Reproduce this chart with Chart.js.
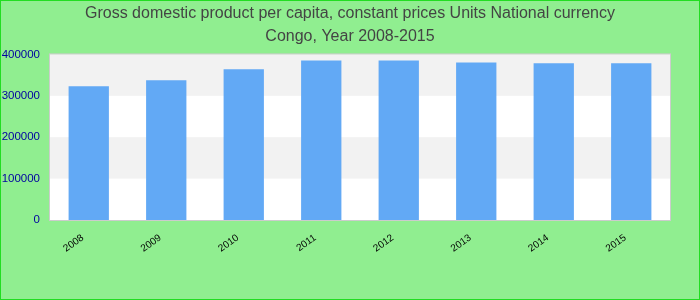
<!DOCTYPE html>
<html>
<head>
<meta charset="utf-8">
<script src="https://cdn.jsdelivr.net/npm/chart.js@4"></script>
<style>
  html, body { margin: 0; padding: 0; background: #90ee90; }
  #wrap { width: 700px; height: 300px; position: relative; }
</style>
</head>
<body>
<div id="wrap"><canvas id="chart"></canvas></div>
<script>
// ── Data ───────────────────────────────────────────────────────────────────
const YEARS  = ['2008', '2009', '2010', '2011', '2012', '2013', '2014', '2015'];
const GDP_PC = [323000, 337500, 364000, 385500, 385000, 380500, 378500, 378500];
const Y_TICKS = [0, 100000, 200000, 300000, 400000];
const TITLE_LINES = [
  'Gross domestic product per capita, constant prices Units National currency',
  'Congo, Year 2008-2015'
];

const FONT = 'Liberation Sans, Arial, sans-serif';

// page background, alternating bands, plot frame
const decor = {
  id: 'decor',
  beforeDraw(chart) {
    const { ctx, width, height } = chart;
    ctx.save();
    ctx.fillStyle = '#90ee90';
    ctx.fillRect(0, 0, width, height);
    ctx.restore();
  },
  beforeDatasetsDraw(chart) {
    const { ctx, chartArea: a, scales: { y } } = chart;
    ctx.save();
    ctx.fillStyle = '#ffffff';
    ctx.fillRect(a.left, a.top, a.right - a.left, a.bottom - a.top);
    for (let i = 1; i < Y_TICKS.length - 1; i += 2) {
      const top = y.getPixelForValue(Y_TICKS[i + 1]);
      const bot = y.getPixelForValue(Y_TICKS[i]);
      ctx.fillStyle = '#f2f2f2';
      ctx.fillRect(a.left, top, a.right - a.left, bot - top);
    }
    ctx.restore();
  },
  afterDraw(chart) {
    const { ctx, chartArea: a, width, height } = chart;
    ctx.save();
    ctx.strokeStyle = '#cccccc';
    ctx.lineWidth = 1;
    ctx.strokeRect(a.left - 0.5, a.top - 0.5, a.right - a.left + 1, a.bottom - a.top + 1);
    ctx.strokeStyle = '#22dd22';
    ctx.strokeRect(0.5, 0.5, width - 1, height - 1);
    ctx.restore();
  }
};

new Chart(document.getElementById('chart'), {
  type: 'bar',
  data: {
    labels: YEARS,
    datasets: [{
      data: GDP_PC,
      backgroundColor: '#62a9f5',
      borderWidth: 0,
      barPercentage: 0.52,
      categoryPercentage: 1,
    }],
  },
  options: {
    responsive: true,
    maintainAspectRatio: false,
    animation: false,
    layout: { padding: 0 },
    plugins: {
      legend: { display: false },
      tooltip: { enabled: false },
      title: {
        display: true,
        text: TITLE_LINES,
        color: '#444444',
        font: { family: FONT, size: 16, weight: 'normal', lineHeight: 1.45 },
        padding: { top: 2, bottom: 6 },
      },
    },
    scales: {
      x: {
        grid: { display: false, drawTicks: false },
        border: { display: false },
        ticks: {
          color: '#000000',
          font: { family: FONT, size: 10 },
          minRotation: 35,
          maxRotation: 35,
          padding: 12,
          labelOffset: -6,
        },
        afterFit(scale) { scale.height = 80; },
      },
      y: {
        min: 0,
        max: 400000,
        afterBuildTicks(scale) { scale.ticks = Y_TICKS.map(v => ({ value: v })); },
        grid: { display: false, drawTicks: false },
        border: { display: false },
        ticks: {
          color: '#0000a0',
          font: { family: FONT, size: 11.5 },
          padding: 10,
          callback: v => String(v),
        },
        afterFit(scale) { scale.width = 50; },
      },
      // empty right-hand gutter so the title stays centred on the page
      yRight: {
        position: 'right',
        display: true,
        grid: { display: false, drawTicks: false },
        border: { display: false },
        ticks: { display: false },
        afterFit(scale) { scale.width = 30; },
      },
    },
  },
  plugins: [decor],
});
</script>
</body>
</html>
